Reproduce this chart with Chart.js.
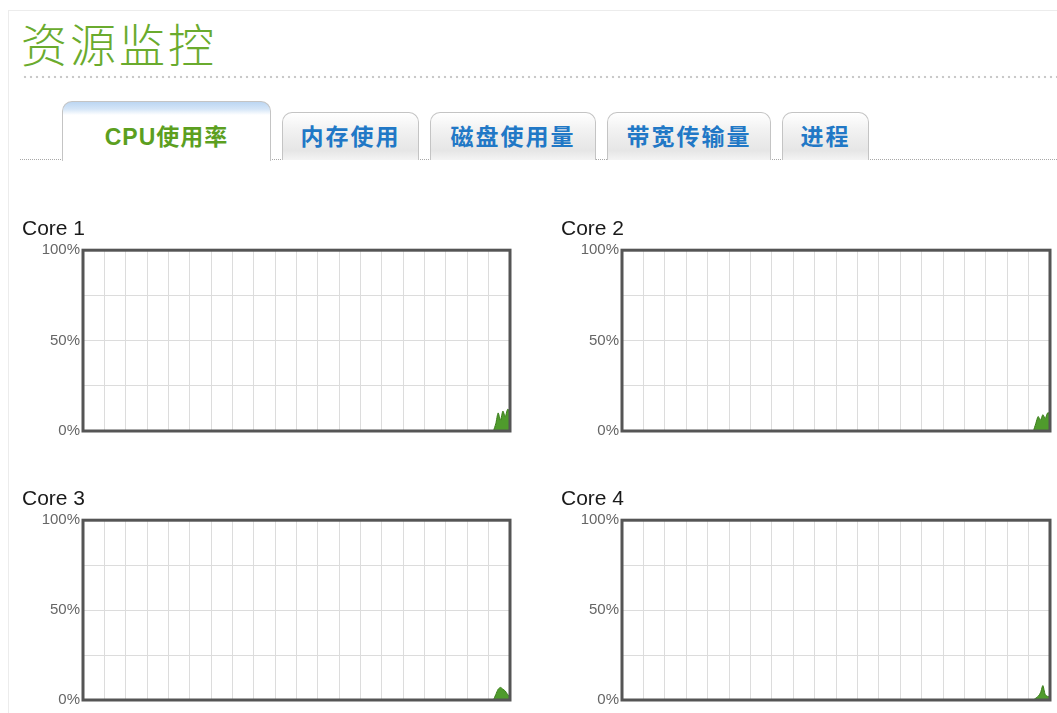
<!DOCTYPE html>
<html>
<head>
<meta charset="utf-8">
<script src="https://cdn.jsdelivr.net/npm/chart.js@4/dist/chart.umd.min.js"></script>
<style>
  html, body { margin: 0; padding: 0; background: #fff; }
  body { width: 1057px; height: 713px; position: relative; overflow: hidden; font-family: "Liberation Sans", Arial, sans-serif; }
  .frame { position: absolute; left: 8px; top: 10px; right: -2px; bottom: -2px; border-left: 1px solid #ececec; border-top: 1px solid #ececec; }
  .title { position: absolute; left: 21px; top: 14px; font-family: "Noto Sans CJK SC", sans-serif; font-size: 46px; font-weight: 300; color: #6aab2e; line-height: 56px; letter-spacing: 3px; }
  .dots { position: absolute; left: 22px; top: 75px; right: 0; height: 4px;
    background-image: radial-gradient(circle, #c9c9c9 1.1px, transparent 1.6px); background-size: 6px 4px; }
  .tabline { position: absolute; left: 20px; right: 0; top: 159px; border-top: 1px dotted #a8a8a8; }
  .tab { position: absolute; box-sizing: border-box; border: 1px solid #c4c4c4; border-bottom: none;
    border-radius: 10px 10px 0 0; text-align: center; font-family: "Liberation Sans", "Noto Sans CJK SC", sans-serif;
    font-weight: bold; font-size: 23px; letter-spacing: 2px; }
  .tab.on { left: 62px; top: 101px; width: 209px; height: 60px; color: #5c9f1f; line-height: 70px; letter-spacing: 1px;
    background: linear-gradient(to bottom, #bcd6f2 0px, #d4e5f7 7px, #ffffff 13px); z-index: 2; }
  .tab.off { top: 112px; height: 48px; color: #2178c6; line-height: 48px;
    background: linear-gradient(to bottom, #ffffff 0%, #f2f2f2 35%, #e6e6e6 80%, #f4f4f4 100%); }
  .box { position: absolute; }
</style>
</head>
<body>
<div class="frame"></div>
<div class="title">资源监控</div>
<div class="dots"></div>
<div class="tabline"></div>
<div class="tab on">CPU使用率</div>
<div class="tab off" style="left:282px;width:137px;">内存使用</div>
<div class="tab off" style="left:430px;width:166px;">磁盘使用量</div>
<div class="tab off" style="left:607px;width:164px;">带宽传输量</div>
<div class="tab off" style="left:782px;width:87px;">进程</div>

<div class="box" style="left:22px;top:214px;width:492px;height:229px;"><canvas id="core1"></canvas></div>
<div class="box" style="left:561px;top:214px;width:493px;height:229px;"><canvas id="core2"></canvas></div>
<div class="box" style="left:22px;top:484px;width:492px;height:228px;"><canvas id="core3"></canvas></div>
<div class="box" style="left:561px;top:484px;width:493px;height:228px;"><canvas id="core4"></canvas></div>

<script>
// ==================== DATA ====================
const coreNames = ['Core 1', 'Core 2', 'Core 3', 'Core 4'];
const sampleCount = 181;               // samples across the width of each plot
const yTicks = [0, 25, 50, 75, 100];
const yTickLabels = { 0: '0%', 50: '50%', 100: '100%' };

// only the last few samples have been collected, the rest is empty
const core1Recent = [0, 4, 10, 6, 11, 8, 12, 11];
const core2Recent = [0, 4, 8, 6, 9, 7, 10, 10];
const core3Recent = [0, 3, 6, 7, 6, 5, 3, 2];
const core4Recent = [0, 1, 2, 4, 8, 3, 2, 2];

const samples = Array.from({ length: sampleCount }, (_, i) => i);
function padSeries(recent) {
  return Array(sampleCount - recent.length).fill(null).concat(recent);
}

// ==================== CHART ====================
Chart.defaults.font.family = '"Liberation Sans", Arial, sans-serif';

const frameBorder = {
  id: 'frameBorder',
  afterDatasetsDraw(chart) {
    const a = chart.chartArea, c = chart.ctx;
    c.save();
    c.strokeStyle = '#555555';
    c.lineWidth = 3;
    c.strokeRect(a.left, a.top, a.right - a.left, a.bottom - a.top);
    c.restore();
  }
};

function makeCore(id, name, recent) {
  return new Chart(document.getElementById(id), {
    type: 'line',
    data: {
      labels: samples,
      datasets: [{
        data: padSeries(recent),
        borderColor: '#3c7d1c',
        backgroundColor: '#4f9b2c',
        borderWidth: 1,
        pointRadius: 0,
        tension: 0.25,
        fill: 'origin'
      }]
    },
    options: {
      responsive: true,
      maintainAspectRatio: false,
      animation: false,
      layout: { padding: { top: 0, right: 4, bottom: 0, left: 0 } },
      plugins: {
        legend: { display: false },
        tooltip: { enabled: false },
        title: {
          display: true, text: name, align: 'start', color: '#1a1a1a',
          font: { size: 21, weight: 'normal' }, padding: { top: 3, bottom: 8 }
        }
      },
      scales: {
        x: {
          ticks: { display: false },
          border: { display: false },
          grid: {
            drawTicks: false,
            color: ctx => (ctx.index % 9 === 0 ? '#dcdcdc' : 'rgba(0,0,0,0)')
          }
        },
        y: {
          min: 0, max: 100,
          afterBuildTicks: s => { s.ticks = yTicks.map(v => ({ value: v })); },
          afterFit: s => { s.width = 61; },
          border: { display: false },
          grid: { drawTicks: false, color: '#dcdcdc' },
          ticks: {
            color: '#666666', padding: 3, font: { size: 15 },
            callback: v => yTickLabels[v] || ''
          }
        }
      }
    },
    plugins: [frameBorder]
  });
}

makeCore('core1', coreNames[0], core1Recent);
makeCore('core2', coreNames[1], core2Recent);
makeCore('core3', coreNames[2], core3Recent);
makeCore('core4', coreNames[3], core4Recent);
</script>
</body>
</html>
